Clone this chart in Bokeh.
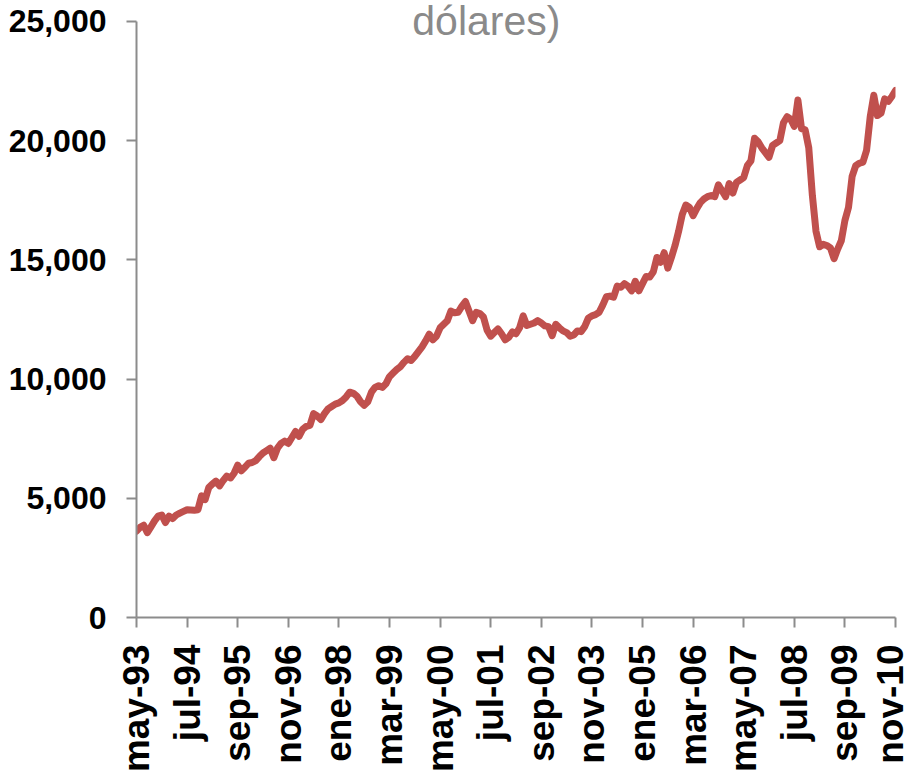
import math
from bokeh.plotting import figure
from bokeh.models import Range1d, FixedTicker, NumeralTickFormatter, Label, ColumnDataSource
from bokeh.embed import file_html
from bokeh.resources import INLINE

# Monthly values, may-93 .. nov-10
v1993 = [3620, 3780, 3870, 3560, 3800, 4050, 4250, 4300]
v1994 = [3980, 4250, 4150, 4300, 4380, 4450, 4520, 4510, 4500, 4520, 5100, 4950]
v1995 = [5450, 5600, 5720, 5520, 5750, 5930, 5850, 6050, 6390, 6150, 6300, 6470]
v1996 = [6500, 6580, 6750, 6900, 7000, 7100, 6700, 7100, 7300, 7400, 7300, 7550]
v1997 = [7800, 7600, 7900, 8020, 8060, 8550, 8450, 8300, 8550, 8750, 8850, 8950]
v1998 = [9000, 9100, 9250, 9450, 9400, 9280, 9050, 8900, 9050, 9450, 9650, 9720]
v1999 = [9650, 9800, 10100, 10250, 10400, 10520, 10700, 10850, 10780, 10950, 11150, 11350]
v2000 = [11600, 11880, 11650, 11800, 12150, 12300, 12450, 12850, 12780, 12800, 13050, 13250]
v2001 = [12850, 12450, 12800, 12750, 12600, 12050, 11800, 11950, 12100, 11900, 11650, 11750]
v2002 = [11980, 11900, 12150, 12650, 12250, 12300, 12350, 12450, 12350, 12230, 12200, 11820]
v2003 = [12300, 12150, 12020, 11950, 11800, 11850, 12020, 11990, 12200, 12550, 12650, 12700]
v2004 = [12800, 13100, 13450, 13480, 13430, 13900, 13850, 14000, 13900, 13700, 14100, 13700]
v2005 = [14000, 14300, 14280, 14500, 15100, 14900, 15300, 14650, 15100, 15600, 16200, 16900]
v2006 = [17300, 17200, 16850, 17150, 17400, 17550, 17650, 17700, 17650, 18150, 17900, 17650]
v2007 = [18200, 17800, 18250, 18350, 18450, 18950, 19150, 20100, 19950, 19700, 19500, 19300]
v2008 = [19800, 19900, 20000, 20750, 21000, 20900, 20600, 21700, 20500, 20450, 19700, 17700]
v2009 = [16200, 15550, 15650, 15600, 15500, 15050, 15450, 15800, 16650, 17200, 18500, 18950]
v2010 = [19050, 19100, 19600, 21000, 21900, 21050, 21150, 21750, 21650, 21850, 22100]

values = (v1993 + v1994 + v1995 + v1996 + v1997 + v1998 + v1999 + v2000 + v2001
          + v2002 + v2003 + v2004 + v2005 + v2006 + v2007 + v2008 + v2009 + v2010)

tick_labels = ["may-93", "jul-94", "sep-95", "nov-96", "ene-98", "mar-99", "may-00",
               "jul-01", "sep-02", "nov-03", "ene-05", "mar-06", "may-07", "jul-08",
               "sep-09", "nov-10"]
tick_step = 14
y_ticks = [0, 5000, 10000, 15000, 20000, 25000]
y_axis_max = 25000
title_text = "dólares)"

idx = list(range(len(values)))
tick_idx = [i * tick_step for i in range(len(tick_labels))]

src = ColumnDataSource(dict(x=idx, y=values))

# frame runs to the top of the canvas so the (cut-off) title is not clipped;
# the y axis line itself stops at 25,000
frame_top_value = y_axis_max * 620 / 599

p = figure(width=910, height=775, output_backend="svg", toolbar_location=None,
           x_range=Range1d(0, len(values) - 1), y_range=Range1d(0, frame_top_value),
           min_border_left=136, min_border_right=15, min_border_top=0,
           min_border_bottom=155)
p.outline_line_color = None
p.xgrid.grid_line_color = None
p.ygrid.grid_line_color = None
p.background_fill_color = "white"

p.line("x", "y", source=src, line_color="#C0504D", line_width=7,
       line_join="round", line_cap="round")

axis_gray = "#8c8c8c"
xa = p.xaxis[0]
xa.ticker = FixedTicker(ticks=tick_idx)
xa.major_label_overrides = {t: l for t, l in zip(tick_idx, tick_labels)}
xa.major_label_orientation = math.pi / 2
xa.major_label_text_font = "Liberation Sans"
xa.major_label_text_font_style = "bold"
xa.major_label_text_font_size = "37px"
xa.major_label_text_color = "black"
xa.major_label_standoff = 17
xa.axis_line_color = axis_gray
xa.axis_line_width = 2
xa.major_tick_line_color = axis_gray
xa.major_tick_line_width = 2
xa.major_tick_out = 10
xa.major_tick_in = 0
xa.minor_tick_line_color = None

ya = p.yaxis[0]
ya.ticker = FixedTicker(ticks=y_ticks)
ya.formatter = NumeralTickFormatter(format="0,0")
ya.bounds = (0, y_axis_max)
ya.major_label_text_font = "Liberation Sans"
ya.major_label_text_font_style = "bold"
ya.major_label_text_font_size = "32px"
ya.major_label_text_color = "black"
ya.major_label_standoff = 20
ya.axis_line_color = axis_gray
ya.axis_line_width = 2
ya.major_tick_line_color = axis_gray
ya.major_tick_line_width = 2
ya.major_tick_out = 10
ya.major_tick_in = 0
ya.minor_tick_line_color = None

title = Label(x=96.8, y=25000, text=title_text, text_align="center",
              text_baseline="alphabetic", text_font="Liberation Sans",
              text_font_size="41px", text_color="#8a8a8a")
p.add_layout(title)

open("out.html", "w").write(file_html(p, INLINE))
